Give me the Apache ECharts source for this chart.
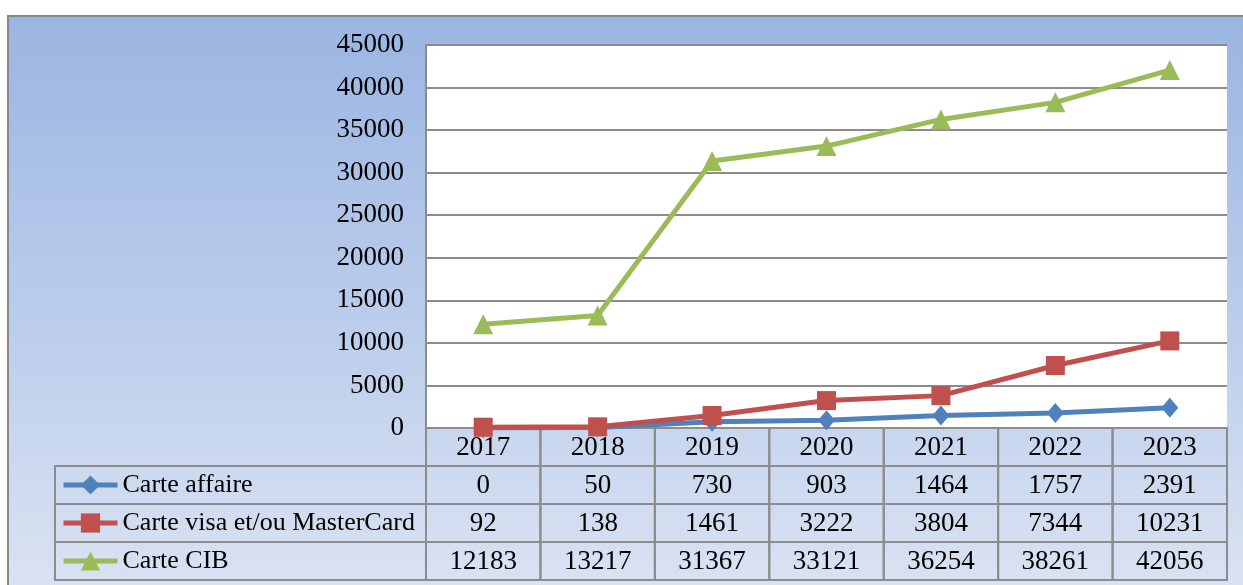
<!DOCTYPE html>
<html>
<head>
<meta charset="utf-8">
<script src="https://cdn.jsdelivr.net/npm/echarts@6/dist/echarts.min.js"></script>
<style>
  html, body { margin: 0; padding: 0; background: #fff; }
  #chart { width: 1243px; height: 585px; }
</style>
</head>
<body>
<div id="chart"></div>
<script>
const years = ['2017', '2018', '2019', '2020', '2021', '2022', '2023'];
const seriesNames = ['Carte affaire', 'Carte visa et/ou MasterCard', 'Carte CIB'];
const carteAffaire = [0, 50, 730, 903, 1464, 1757, 2391];
const carteVisa = [92, 138, 1461, 3222, 3804, 7344, 10231];
const carteCIB = [12183, 13217, 31367, 33121, 36254, 38261, 42056];
const yTicks = { min: 0, max: 45000, interval: 5000 };

const colors = ['#4F81BD', '#C0504D', '#9BBB59'];
const font = "'Liberation Serif', 'Times New Roman', serif";
const gridLine = '#8c8c8c';

// table cells: [column, row, text]; row 0 holds the years
const tableRows = ['years', ...seriesNames];
const cells = [];
years.forEach((y, i) => cells.push([i, 0, y]));
[carteAffaire, carteVisa, carteCIB].forEach((arr, r) => {
  arr.forEach((v, i) => cells.push([i, r + 1, String(v)]));
});
// legend column cells (drawn left of the table grid)
const legendCells = seriesNames.map((n, r) => [0, r + 1, n]);
const legendColWidth = 371;
const tableTop = 428, rowH = 38;

const chart = echarts.init(document.getElementById('chart'));

// one legend per table row so each sits in its own cell
const legends = seriesNames.map((n, r) => ({
  orient: 'vertical',
  left: 61,
  top: tableTop + rowH * (r + 1),
  height: rowH,
  padding: 0,
  itemGap: 0,
  itemWidth: 54,
  itemHeight: 24,
  lineStyle: { width: 5 },
  textStyle: { fontFamily: font, fontSize: 26, color: '#000', lineHeight: rowH },
  data: [n]
}));

const option = {
  animation: false,
  color: colors,
  graphic: [{
    type: 'rect',
    z: -10,
    shape: { x: 8, y: 16, width: 1250, height: 590 },
    style: {
      fill: new echarts.graphic.LinearGradient(0, 0, 0, 1, [
        { offset: 0, color: '#9AB5E2' },
        { offset: 0.5, color: '#BACCEB' },
        { offset: 1, color: '#DCE4F3' }
      ]),
      stroke: '#888',
      lineWidth: 2
    }
  }],
  legend: legends,
  grid: [
    { left: 426, top: 45, width: 801, height: tableTop - 45, show: true, backgroundColor: '#fff', borderWidth: 0 },
    { left: 426, top: tableTop, width: 801, height: rowH * 4, show: false }
  ],
  xAxis: [
    {
      gridIndex: 0, type: 'category', data: years, boundaryGap: true,
      axisLine: { show: false }, axisTick: { show: false }, axisLabel: { show: false }
    },
    {
      gridIndex: 1, type: 'category', data: years, boundaryGap: true,
      axisLine: { show: false }, axisTick: { show: false }, axisLabel: { show: false }
    }
  ],
  yAxis: [
    {
      gridIndex: 0, type: 'value', min: yTicks.min, max: yTicks.max, interval: yTicks.interval,
      axisLine: { show: true, lineStyle: { color: gridLine, width: 2 } },
      axisTick: { show: false },
      axisLabel: { fontFamily: font, fontSize: 27, color: '#000', margin: 22, formatter: v => String(v) },
      splitLine: { lineStyle: { color: gridLine, width: 2 } }
    },
    {
      gridIndex: 1, type: 'category', data: tableRows, inverse: true,
      axisLine: { show: false }, axisTick: { show: false }, axisLabel: { show: false }
    }
  ],
  series: [
    {
      name: seriesNames[0], type: 'line', data: carteAffaire,
      symbol: 'diamond', symbolSize: [17, 20],
      lineStyle: { width: 5 }, itemStyle: { color: colors[0] }
    },
    {
      name: seriesNames[1], type: 'line', data: carteVisa,
      symbol: 'rect', symbolSize: 19,
      lineStyle: { width: 5 }, itemStyle: { color: colors[1] }
    },
    {
      name: seriesNames[2], type: 'line', data: carteCIB,
      symbol: 'triangle', symbolSize: 20,
      lineStyle: { width: 5 }, itemStyle: { color: colors[2] }
    },
    {
      type: 'custom', xAxisIndex: 1, yAxisIndex: 1, silent: true,
      data: cells,
      renderItem: function (params, api) {
        const c = api.coord([api.value(0), api.value(1)]);
        const s = api.size([1, 1]);
        return {
          type: 'group',
          children: [
            {
              type: 'rect',
              shape: { x: c[0] - s[0] / 2, y: c[1] - s[1] / 2, width: s[0], height: s[1] },
              style: { fill: 'none', stroke: gridLine, lineWidth: 2 }
            },
            {
              type: 'text',
              x: c[0], y: c[1] + 1,
              style: {
                text: cells[params.dataIndex][2],
                font: '27px ' + font,
                fill: '#000', align: 'center', verticalAlign: 'middle'
              }
            }
          ]
        };
      }
    },
    {
      type: 'custom', xAxisIndex: 1, yAxisIndex: 1, silent: true,
      data: legendCells,
      renderItem: function (params, api) {
        const c = api.coord([api.value(0), api.value(1)]);
        const s = api.size([1, 1]);
        const x0 = params.coordSys.x;
        return {
          type: 'rect',
          shape: { x: x0 - legendColWidth, y: c[1] - s[1] / 2, width: legendColWidth, height: s[1] },
          style: { fill: 'none', stroke: gridLine, lineWidth: 2 }
        };
      }
    }
  ]
};

chart.setOption(option);
</script>
</body>
</html>
